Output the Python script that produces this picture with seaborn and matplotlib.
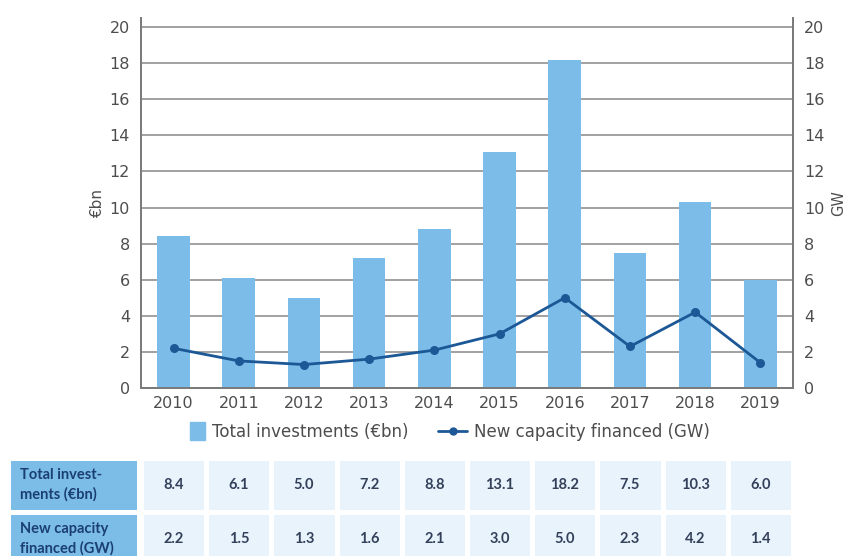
import matplotlib
matplotlib.use('Agg')
import matplotlib.pyplot as plt
import seaborn as sns
import pandas as pd
from matplotlib.colors import ListedColormap
from matplotlib.patches import Patch, Rectangle
from matplotlib.lines import Line2D
from matplotlib.legend_handler import HandlerPatch

years = ['2010', '2011', '2012', '2013', '2014', '2015', '2016', '2017', '2018', '2019']
investments = [8.4, 6.1, 5.0, 7.2, 8.8, 13.1, 18.2, 7.5, 10.3, 6.0]
capacity = [2.2, 1.5, 1.3, 1.6, 2.1, 3.0, 5.0, 2.3, 4.2, 1.4]
series_labels = ['Total investments (€bn)', 'New capacity financed (GW)']
row_labels = ['Total invest-\nments (€bn)', 'New capacity\nfinanced (GW)']
yticks = [0, 2, 4, 6, 8, 10, 12, 14, 16, 18, 20]

BAR = '#7bbde8'
LINE = '#1c5796'
GRID = '#9a9a9a'
SPINE = '#7a7a7a'
TXT = '#4d4d4d'
HEAD = '#7bbde6'
CELL = '#e8f3fc'
NARROW = ['Lato', 'DejaVu Sans']

sns.set_theme(style='white')
plt.rcParams['font.family'] = ['DejaVu Sans']

fig = plt.figure(figsize=(8.45, 5.56), dpi=100)
W, H = 845, 556
ax = fig.add_axes([141 / W, 1 - 388 / H, 652 / W, 370 / H])

df = pd.DataFrame({'year': years, 'inv': investments, 'cap': capacity})
sns.barplot(data=df, x='year', y='inv', color=BAR, saturation=1, width=0.5,
            linewidth=0, ax=ax)
ax2 = ax.twinx()
sns.pointplot(data=df, x='year', y='cap', color=LINE, markers='o',
              markersize=5, linewidth=2, ax=ax2)

for a in (ax, ax2):
    a.set_ylim(0, 20.5)
    a.set_yticks(yticks)
    a.set_xlim(-0.5, 9.5)
    a.tick_params(length=0, labelsize=11.5, labelcolor=TXT)
    a.spines['top'].set_visible(False)
ax.tick_params(axis='y', pad=8)
ax2.tick_params(axis='y', pad=8)
ax.tick_params(axis='x', pad=6)
ax.yaxis.grid(True, color=GRID, lw=1.3)
ax.set_axisbelow(True)
ax2.grid(False)
for s in ('left', 'bottom', 'right'):
    for a in (ax, ax2):
        a.spines[s].set_color(SPINE)
        a.spines[s].set_linewidth(1.3)
ax.set_xlabel('')
ax.set_ylabel('€bn', color=TXT, fontsize=11, labelpad=3)
ax2.set_ylabel('GW', color=TXT, fontsize=10.5, labelpad=5)


def square_patch(legend, orig_handle, xdescent, ydescent, width, height, fontsize):
    w = 10.5
    return Rectangle((-xdescent + width - w, -ydescent - 2.5), w, height + 5)


handles = [Patch(color=BAR), Line2D([], [], color=LINE, marker='o', markersize=5, lw=2)]
fig.legend(handles, series_labels, loc='center', bbox_to_anchor=(443 / W, 1 - 432 / H),
           ncol=2, frameon=False, prop={'family': ['DejaVu Sans'], 'size': 12},
           handlelength=1.75, handletextpad=0.42, columnspacing=1.8, labelcolor=TXT,
           handler_map={Patch: HandlerPatch(patch_func=square_patch)})

# table
tb = 1 - 566 / H
th = 108 / H
tax = fig.add_axes([141 / W, tb, 652 / W, th])
table_df = pd.DataFrame([investments, capacity], columns=years)
sns.heatmap(table_df, ax=tax, cmap=ListedColormap([CELL]), cbar=False, annot=True,
            fmt='.1f', annot_kws={'fontsize': 10.5, 'fontweight': 'bold',
                                  'color': '#33405a', 'family': NARROW},
            linewidths=3.5, linecolor='white', xticklabels=False, yticklabels=False)
hax = fig.add_axes([8 / W, tb, 131 / W, th])
sns.heatmap(pd.DataFrame({'h': [0, 0]}), ax=hax, cmap=ListedColormap([HEAD]), cbar=False,
            linewidths=3.5, linecolor='white', xticklabels=False, yticklabels=False)
for i, lab in enumerate(row_labels):
    hax.text(0.09, i + 0.5, lab, ha='left', va='center', fontsize=10.5,
             fontweight='bold', color='#1b3f73', family=NARROW, linespacing=1.45)

fig.savefig('out.png', dpi=100)
